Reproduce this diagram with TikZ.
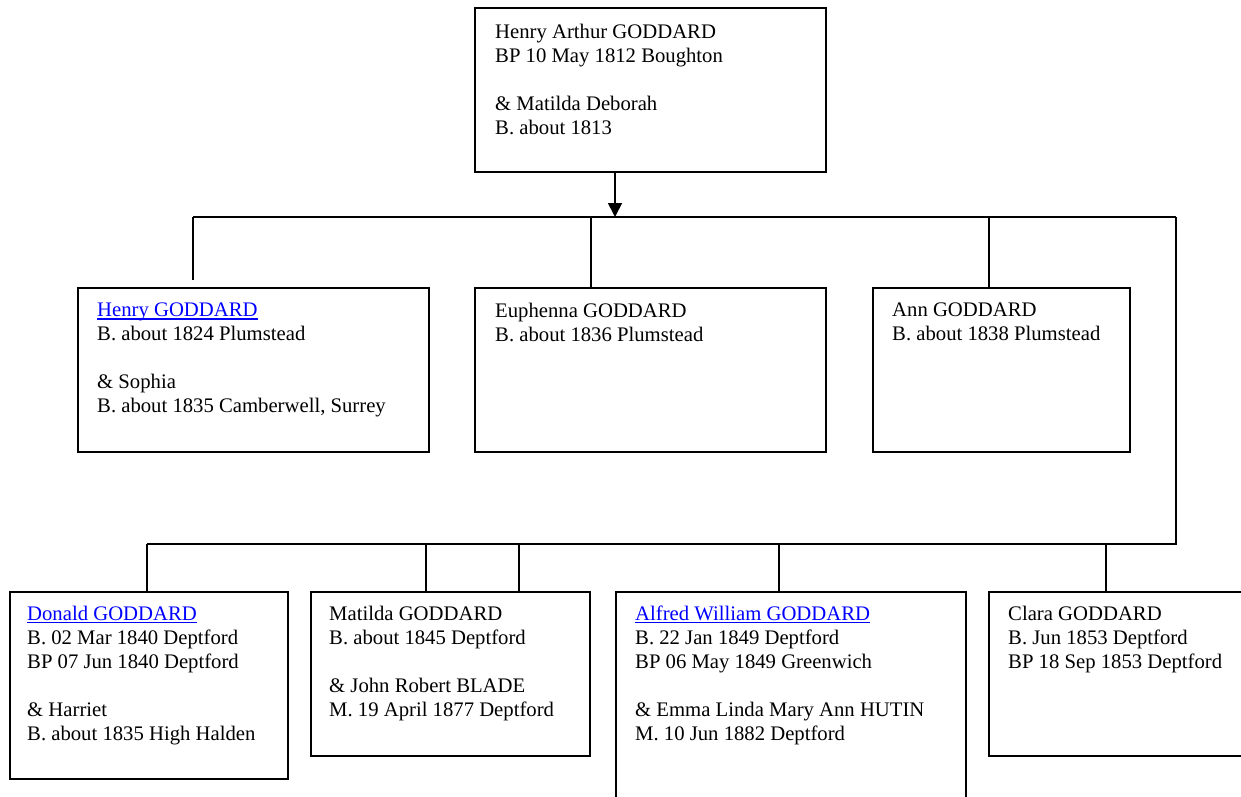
\documentclass[tikz,border=0pt]{standalone}
\usepackage{fontspec}
\setmainfont{Liberation Serif}
\usetikzlibrary{arrows.meta,calc}
\definecolor{linkblue}{RGB}{0,0,255}
\newcommand{\lnk}[1]{{\color{linkblue}\setbox0\hbox{#1}\rlap{\rule[-2.6pt]{\wd0}{1.2pt}}\box0}}
\tikzset{
  box/.style={draw=black, line width=1.6pt, rectangle, inner sep=0pt, anchor=north west, fill=white},
  txt/.style={anchor=north west, inner sep=0pt, align=left, font=\fontsize{20.7}{24}\selectfont},
  conn/.style={draw=black, line width=1.6pt},
}
\begin{document}
\begin{tikzpicture}[x=1pt,y=-1pt]
\useasboundingbox (0,0) rectangle (1241,796);
\clip (0,0) rectangle (1241,796);
% boxes
\node[box, minimum width=351pt, minimum height=164pt] (top) at (474,7) {};
\node[box, minimum width=351pt, minimum height=164pt] (henry) at (77,287) {};
\node[box, minimum width=351pt, minimum height=164pt] (euph) at (474,287) {};
\node[box, minimum width=257pt, minimum height=164pt] (ann) at (872,287) {};
\node[box, minimum width=278pt, minimum height=187pt] (donald) at (9,591) {};
\node[box, minimum width=279pt, minimum height=164pt] (matilda) at (310,591) {};
\node[box, minimum width=350pt, minimum height=215pt] (alfred) at (615,591) {};
\node[box, minimum width=270pt, minimum height=164pt] (clara) at (988,591) {};
% texts
\node[txt] (ttop) at ($(top.north west)+(21,17)$) {Henry Arthur GODDARD\\BP 10 May 1812 Boughton\\[24pt]\& Matilda Deborah\\B. about 1813};
\node[txt] (thenry) at ($(henry.north west)+(20,16)$) {\lnk{Henry GODDARD}\\B. about 1824 Plumstead\\[24pt]\& Sophia\\B. about 1835 Camberwell, Surrey};
\node[txt] (teuph) at ($(euph.north west)+(21,16)$) {Euphenna GODDARD\\B. about 1836 Plumstead};
\node[txt] (tann) at ($(ann.north west)+(20,16)$) {Ann GODDARD\\B. about 1838 Plumstead};
\node[txt] (tdonald) at ($(donald.north west)+(18,15)$) {\lnk{Donald GODDARD}\\B. 02 Mar 1840 Deptford\\BP 07 Jun 1840 Deptford\\[24pt]\& Harriet\\B. about 1835 High Halden};
\node[txt] (tmatilda) at ($(matilda.north west)+(19,15)$) {Matilda GODDARD\\B. about 1845 Deptford\\[24pt]\& John Robert BLADE\\M. 19 April 1877 Deptford};
\node[txt] (talfred) at ($(alfred.north west)+(20,15)$) {\lnk{Alfred William GODDARD}\\B. 22 Jan 1849 Deptford\\BP 06 May 1849 Greenwich\\[24pt]\& Emma Linda Mary Ann HUTIN\\M. 10 Jun 1882 Deptford};
\node[txt] (tclara) at ($(clara.north west)+(20,15)$) {Clara GODDARD\\B. Jun 1853 Deptford\\BP 18 Sep 1853 Deptford};
% junction coordinates
\coordinate (a1) at (615,217);
\coordinate (b1) at (193,217);
\coordinate (b2) at (591,217);
\coordinate (b3) at (989,217);
\coordinate (b4) at (1176,217);
\coordinate (h0) at (1176,544);
\coordinate (c1) at (147,544);
\coordinate (c2) at (426,544);
\coordinate (c3) at (519,544);
\coordinate (c4) at (779,544);
\coordinate (c5) at (1106,544);
\coordinate (henryend) at (193,280);
% connectors
\draw[conn, -{Triangle[width=14pt,length=14pt]}] (top.south -| a1) -- (a1);
\draw[conn] (b1) -- (b4);
\draw[conn] (b1) -- (henryend);
\draw[conn] (b2) -- (euph.north -| b2);
\draw[conn] (b3) -- (ann.north -| b3);
\draw[conn] (b4) -- (h0) -- (c1);
\draw[conn] (c1) -- (donald.north -| c1);
\draw[conn] (c2) -- (matilda.north -| c2);
\draw[conn] (c3) -- (matilda.north -| c3);
\draw[conn] (c4) -- (alfred.north -| c4);
\draw[conn] (c5) -- (clara.north -| c5);
\end{tikzpicture}
\end{document}
